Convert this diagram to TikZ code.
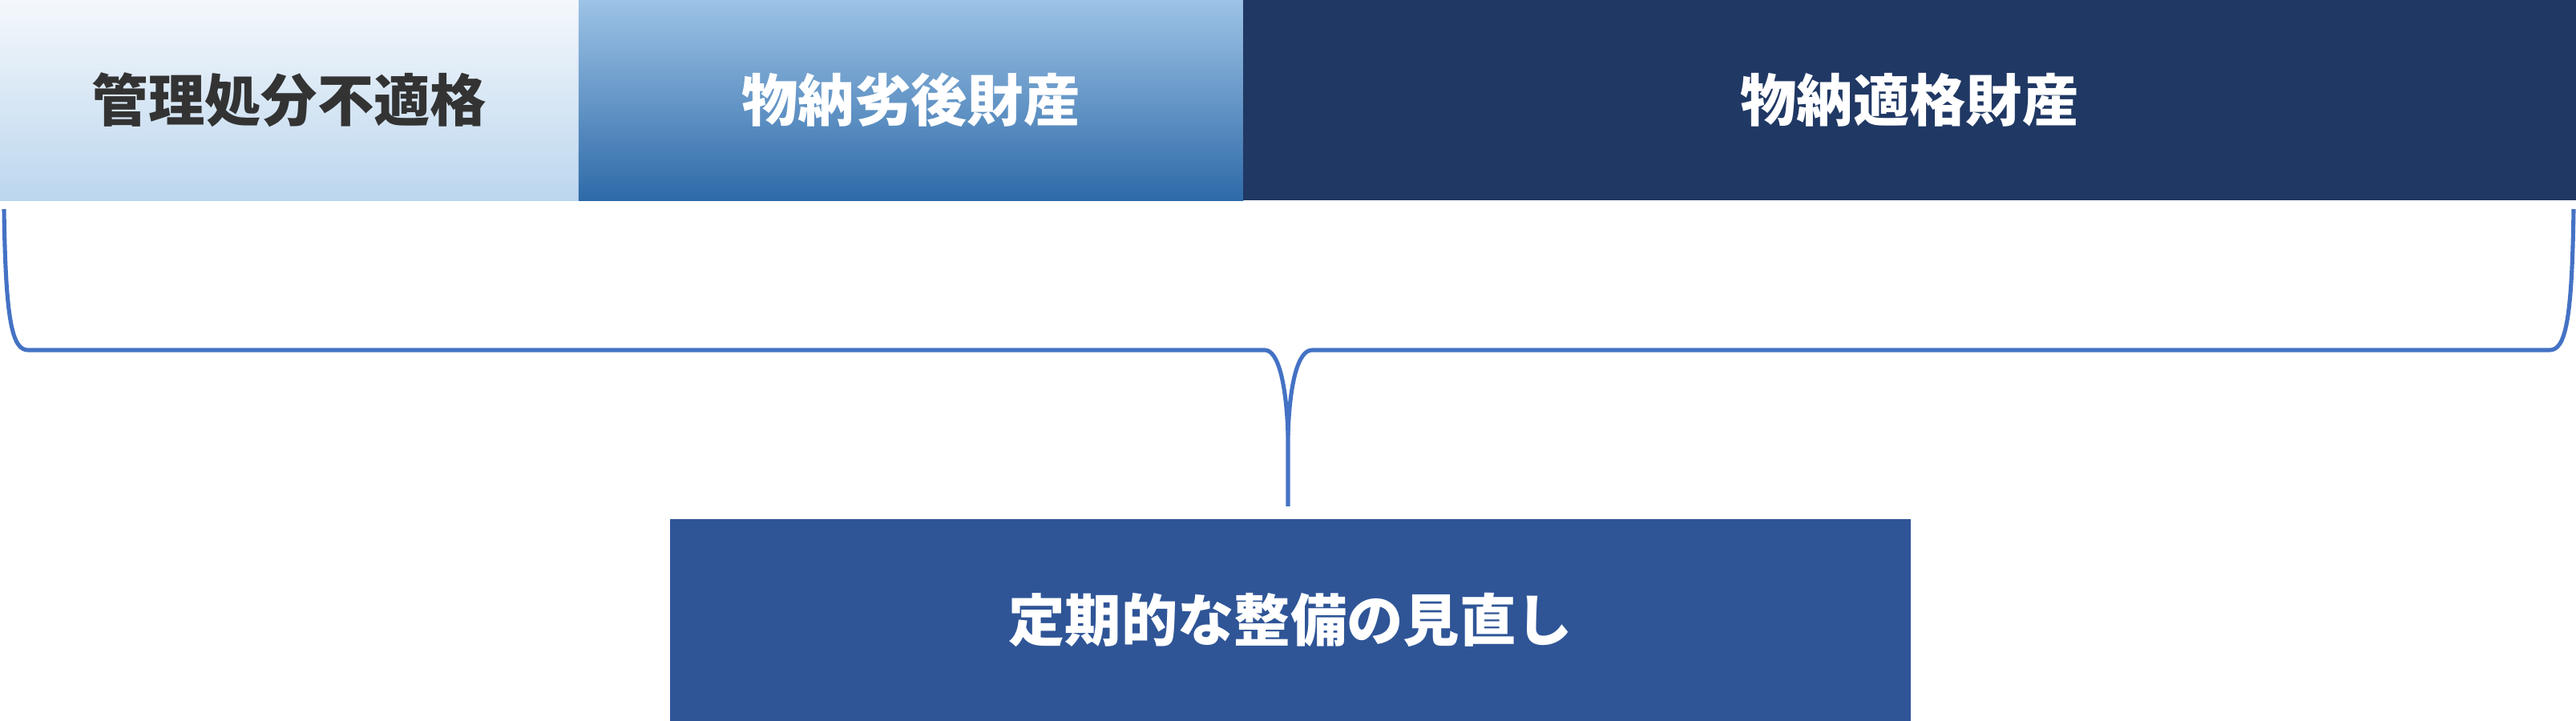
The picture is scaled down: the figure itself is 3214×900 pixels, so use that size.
\documentclass[tikz,border=0pt]{standalone}
\usepackage{fontspec}
\newfontfamily\jpfont{Noto Sans CJK JP}
\usetikzlibrary{positioning}

\definecolor{palebluetop}{HTML}{F4F8FC}
\definecolor{palebluemid}{HTML}{D0E2F3}
\definecolor{palebluebot}{HTML}{BCD6EE}
\definecolor{midbluetop}{HTML}{9DC3E6}
\definecolor{midbluemid}{HTML}{5B9BD5}
\definecolor{midbluebot}{HTML}{2E6AA8}
\definecolor{navy}{HTML}{203864}
\definecolor{reviewblue}{HTML}{2F5597}
\definecolor{bracecol}{HTML}{4472C4}
\definecolor{darktext}{HTML}{333333}

\tikzset{
    box/.style={inner sep=0pt, outer sep=0pt, minimum height=2.5cm,
        font=\jpfont\bfseries\fontsize{20pt}{24pt}\selectfont, text=white},
    brace/.style={draw=bracecol, line width=1.45pt, line join=round}
}

\begin{document}
\begin{tikzpicture}[x=0.01cm, y=-0.01cm]
    \useasboundingbox (0,0) rectangle (3214,900);

    \node[box, minimum width=7.22cm, top color=palebluetop, middle color=palebluemid,
          bottom color=palebluebot, text=darktext] at (361,125)    (unfit)    {管理処分不適格};
    \node[box, minimum width=8.29cm, top color=midbluetop, middle color=midbluemid,
          bottom color=midbluebot]                 at (1136.5,125) (inferior) {物納劣後財産};
    \node[box, minimum width=16.63cm, fill=navy]   at (2382.5,125) (eligible) {物納適格財産};
    \node[box, minimum width=15.48cm, minimum height=2.52cm,
          fill=reviewblue]                         at (1610,774)   (review)   {定期的な整備の見直し};

    \coordinate (bl)  at (5,261);
    \coordinate (br)  at (3211,261);
    \coordinate (mid) at (1607,543);
    \coordinate (tip) at (1607,632);

    \draw[brace] (bl) .. controls (7,400) and (15,437) .. (35,437) -- (1578,437)
        .. controls (1595,437) and (1605,480) .. (mid) -- (tip);
    \draw[brace] (br) .. controls (3209,400) and (3201,437) .. (3181,437) -- (1637,437)
        .. controls (1619,437) and (1609,480) .. (mid);
\end{tikzpicture}
\end{document}
